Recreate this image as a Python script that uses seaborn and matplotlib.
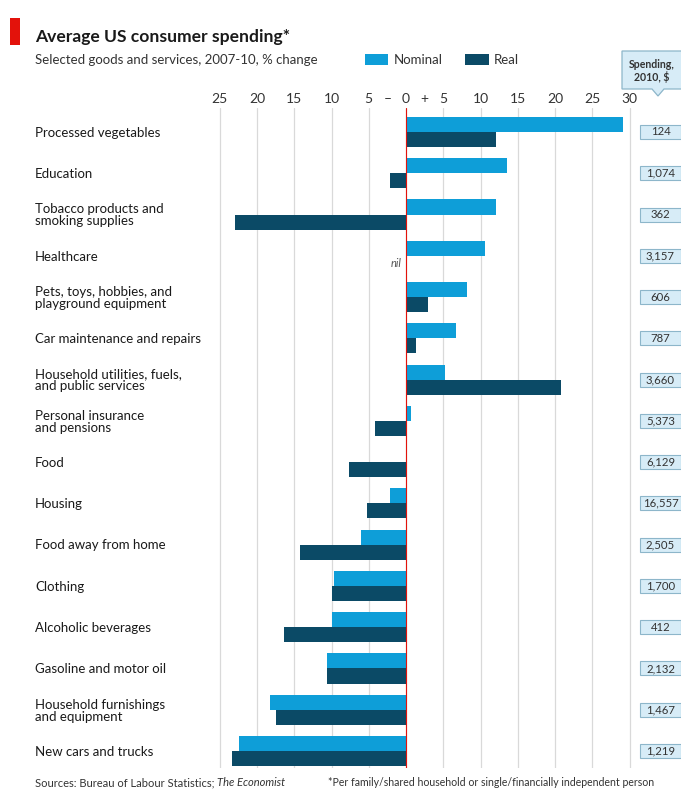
import matplotlib
matplotlib.use("Agg")
import matplotlib.pyplot as plt
from matplotlib.patches import Rectangle, Polygon
from matplotlib.transforms import blended_transform_factory, offset_copy
import seaborn as sns
import pandas as pd

categories = [
    "Processed vegetables",
    "Education",
    "Tobacco products and\nsmoking supplies",
    "Healthcare",
    "Pets, toys, hobbies, and\nplayground equipment",
    "Car maintenance and repairs",
    "Household utilities, fuels,\nand public services",
    "Personal insurance\nand pensions",
    "Food",
    "Housing",
    "Food away from home",
    "Clothing",
    "Alcoholic beverages",
    "Gasoline and motor oil",
    "Household furnishings\nand equipment",
    "New cars and trucks",
]
nominal = [29.1, 13.6, 12.1, 10.6, 8.2, 6.7, 5.3, 0.7, 0.0, -2.1, -6.0, -9.6, -9.9, -10.6, -18.3, -22.4]
real = [12.1, -2.2, -23.0, 0.0, 2.9, 1.4, 20.8, -4.2, -7.6, -5.2, -14.2, -10.0, -16.4, -10.6, -17.4, -23.4]
spending = ["124", "1,074", "362", "3,157", "606", "787", "3,660", "5,373",
            "6,129", "16,557", "2,505", "1,700", "412", "2,132", "1,467", "1,219"]
series = ["Nominal", "Real"]
xticks = [-25, -20, -15, -10, -5, 0, 5, 10, 15, 20, 25, 30]

NOM_C = "#0e9ed8"
REAL_C = "#0b4a66"
RED = "#e3120b"
BOX_FC = "#d7ecf7"
BOX_EC = "#8db6ca"

sns.set_style("white")
plt.rcParams["font.family"] = ["Lato", "DejaVu Sans"]

W, H = 681, 789
fig = plt.figure(figsize=(W / 100, H / 100), dpi=100)

def fx(px):
    return px / W

def fy(py):
    return 1 - py / H

ax_left, ax_right, ax_top, ax_bot = 210, 632, 108, 768
ax = fig.add_axes([fx(ax_left), fy(ax_bot), (ax_right - ax_left) / W, (ax_bot - ax_top) / H])

df = pd.DataFrame({
    "category": categories * 2,
    "value": nominal + real,
    "series": [series[0]] * len(categories) + [series[1]] * len(categories),
})

sns.barplot(data=df, y="category", x="value", hue="series", orient="h",
            palette=[NOM_C, REAL_C], width=0.73, saturation=1, linewidth=0,
            ax=ax, order=categories, hue_order=series)

# axis scaling: zero at px 406, 7.45 px per unit
ppu = 7.45
ax.set_xlim(-(406 - ax_left) / ppu, (ax_right - 406) / ppu)
row = 41.27
ax.set_ylim(15 + (ax_bot - 751) / row, -(132 - ax_top) / row)

TICK_PAD = 2
ax.xaxis.tick_top()
ax.set_xticks(xticks)
ax.set_xticklabels([str(abs(t)) for t in xticks], fontsize=10, color="#333333")
ax.tick_params(axis="x", length=0, pad=TICK_PAD)
ax.tick_params(axis="y", length=0, labelleft=False)
ax.set_xlabel("")
ax.set_ylabel("")
ax.grid(axis="x", color="#d9d9d9", lw=0.9)
ax.grid(axis="y", visible=False)
ax.set_axisbelow(True)
for s in ax.spines.values():
    s.set_visible(False)
ax.axvline(0, color=RED, lw=0.8, zorder=5)

tr_top = offset_copy(blended_transform_factory(ax.transData, ax.transAxes),
                     fig=fig, y=TICK_PAD, units="points")
for xv, sym in [(-2.5, "–"), (2.5, "+")]:
    ax.text(xv, 1.0, sym, transform=tr_top, ha="center", va="bottom", fontsize=10,
            color="#333333")

ax.text(-0.6, 3 + 0.19, "nil", ha="right", va="center", fontsize=8,
        style="italic", color="#555555")

# category labels and spending boxes
tr_lab = blended_transform_factory(fig.transFigure, ax.transData)
for i, (cat, sp) in enumerate(zip(categories, spending)):
    ax.text(fx(35), i + 0.02, cat, transform=tr_lab, ha="left", va="center",
            fontsize=9.5, color="#1a1a1a", linespacing=1.0)
    bh = 14 / row
    r = Rectangle((fx(640), i - bh / 2), fx(41), bh, transform=tr_lab,
                  facecolor=BOX_FC, edgecolor=BOX_EC, lw=0.8, clip_on=False)
    ax.add_patch(r)
    ax.text(fx(660.5), i, sp, transform=tr_lab, ha="center", va="center",
            fontsize=8.2, color="#333333")

# legend
sns.move_legend(ax, loc="upper left", bbox_to_anchor=(fx(365), fy(54)),
                bbox_transform=fig.transFigure, ncol=2, frameon=False, title=None,
                fontsize=9.5, handlelength=1.75, handleheight=0.9,
                columnspacing=1.75, handletextpad=0.4, borderpad=0, borderaxespad=0)
for t in ax.get_legend().get_texts():
    t.set_color("#333333")

# header
fig.patches.append(Rectangle((fx(10), fy(45)), fx(10), 27 / H, transform=fig.transFigure,
                             facecolor=RED, edgecolor="none"))
fig.text(fx(35), fy(37), "Average US consumer spending*", fontsize=12.6,
         fontweight="bold", color="#1a1a1a", va="center", ha="left")
fig.text(fx(35), fy(60), "Selected goods and services, 2007-10, % change", fontsize=9.5,
         color="#333333", va="center", ha="left")

# callout
pts = [(622, 51), (683, 51), (683, 89), (664, 89), (658, 96), (652, 89), (622, 89)]
fig.patches.append(Polygon([(fx(x), fy(y)) for x, y in pts], closed=True,
                           transform=fig.transFigure, facecolor=BOX_FC,
                           edgecolor=BOX_EC, lw=0.9))
fig.text(fx(652), fy(71), "Spending,\n2010, $", fontsize=7.6, fontweight="bold",
         color="#333333", ha="center", va="center", linespacing=1.05)

# footer
t1 = fig.text(fx(35), fy(783), "Sources: Bureau of Labour Statistics; ", fontsize=8,
              color="#333333", va="center", ha="left")
fig.canvas.draw()
bb = t1.get_window_extent(renderer=fig.canvas.get_renderer())
fig.text(bb.x1 / W, fy(783), "The Economist", fontsize=8, style="italic",
         color="#333333", va="center", ha="left")
fig.text(fx(328), fy(783),
         "*Per family/shared household or single/financially independent person",
         fontsize=7.6, color="#333333", va="center", ha="left")

fig.savefig("out.png", dpi=100)
